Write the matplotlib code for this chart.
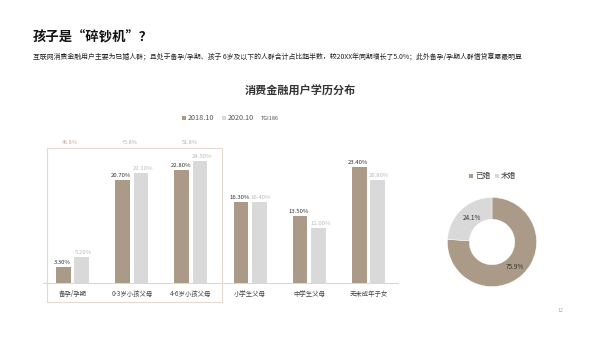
import matplotlib
matplotlib.use("Agg")
import matplotlib.pyplot as plt
from matplotlib.patches import Rectangle

plt.rcParams['font.family'] = ['Noto Sans CJK SC', 'DejaVu Sans']

categories = ["备孕/孕期", "0-3岁小孩父母", "4-6岁小孩父母", "小学生父母", "中学生父母", "无未成年子女"]
series_names = ["2018.10", "2020.10"]
values_2018 = [3.30, 20.70, 22.80, 16.30, 13.50, 23.40]
values_2020 = [5.20, 22.10, 24.50, 16.40, 11.00, 20.80]
top_notes = ["46.8%", "+5.8%", "51.8%"]
donut_labels = ["已婚", "未婚"]
donut_values = [75.9, 24.1]

BROWN = "#ab9a87"
GRAY = "#d9d9d9"
W, H = 600, 337

fig = plt.figure(figsize=(6, 3.37), dpi=100)

def px_axes(x0, y0, x1, y1):
    return fig.add_axes([x0 / W, 1 - y1 / H, (x1 - x0) / W, (y1 - y0) / H])

def ftext(x, y, s, **kw):
    fig.text(x / W, 1 - y / H, s, **kw)

def square(x, y, color):
    fig.patches.append(Rectangle((x / W, 1 - (y + 2) / H), 4 / W, 4 / H,
                                 transform=fig.transFigure, facecolor=color, edgecolor="none"))

# Titles
ftext(33, 37, "孩子是“碎钞机”？", fontsize=9.6, fontweight="bold", va="center", ha="left", color="#111111")
ftext(33, 57, "互联网消费金融用户主要为已婚人群；且处于备孕/孕期、孩子 6岁及以下的人群合计占比超半数，较20XX年同期增长了5.0%；此外备孕/孕期人群借贷意愿最明显",
      fontsize=4.95, va="center", ha="left", color="#222222")
ftext(300, 91, "消费金融用户学历分布", fontsize=8, fontweight="bold", va="center", ha="center", color="#333333")

# Legend for bars
square(182, 118, BROWN)
ftext(188, 118, series_names[0], fontsize=5.2, color="#555555", va="center", ha="left")
square(222, 118, GRAY)
ftext(228, 118, series_names[1], fontsize=5.2, color="#555555", va="center", ha="left")
ftext(261, 119, "TGI186", fontsize=4, color="#555555", va="center", ha="left")

# Top notes
for i, note in enumerate(top_notes):
    ftext(70 + 60 * i, 142, note, fontsize=4, color="#c0ada0", va="center", ha="center")

# Bar chart
ax = px_axes(43, 150, 398, 283)
x = list(range(len(categories)))
bw = 0.25
off = 0.155
xs1 = [i - off for i in x]
xs2 = [i + off for i in x]
ax.bar(xs1, values_2018, width=bw, color=BROWN)
ax.bar(xs2, values_2020, width=bw, color=GRAY)
for xi, v in zip(xs1, values_2018):
    ax.text(xi - 0.02, v + 0.4, f"{v:.2f}%", fontsize=4.3, color="#333333", ha="center", va="bottom")
for xi, v in zip(xs2, values_2020):
    ax.text(xi + 0.03, v + 0.4, f"{v:.2f}%", fontsize=4.3, color="#bbbbbb", ha="center", va="bottom")
ax.set_xlim(-0.5, len(categories) - 0.5)
ax.set_ylim(0, 133 / 4.96)
ax.set_xticks(x)
ax.set_xticklabels(categories, fontsize=4.6, color="#444444")
ax.tick_params(axis="x", length=0, pad=5)
ax.set_yticks([])
for s in ["top", "right", "left"]:
    ax.spines[s].set_visible(False)
ax.spines["bottom"].set_color("#d0d0d0")
ax.spines["bottom"].set_linewidth(0.6)
ax.patch.set_alpha(0)

# Highlight box
fig.patches.append(Rectangle((47 / W, 1 - 302 / H), (222 - 47) / W, (302 - 148) / H,
                             transform=fig.transFigure, fill=False, edgecolor="#e3d9cf", linewidth=0.8))

# Donut
dax = px_axes(447, 197, 537, 287)
dax.pie(donut_values, colors=[BROWN, GRAY], startangle=90, counterclock=False,
        wedgeprops=dict(width=0.49, edgecolor="white", linewidth=0.3))
dax.set_xlim(-1.01, 1.01)
dax.set_ylim(-1.01, 1.01)
dax.set_aspect("equal")
ftext(472, 218, f"{donut_values[1]:.1f}%", fontsize=4.6, color="#333333", ha="center", va="center")
ftext(515, 267, f"{donut_values[0]:.1f}%", fontsize=4.6, color="#333333", ha="center", va="center")

# Donut legend
square(469, 176, BROWN)
ftext(475, 176, donut_labels[0], fontsize=5.5, color="#444444", va="center", ha="left")
square(495, 176, GRAY)
ftext(501, 176, donut_labels[1], fontsize=5.5, color="#444444", va="center", ha="left")

ftext(560, 311, "12", fontsize=3.8, color="#aaaaaa", ha="center", va="center")

fig.savefig("out.png", dpi=100)
